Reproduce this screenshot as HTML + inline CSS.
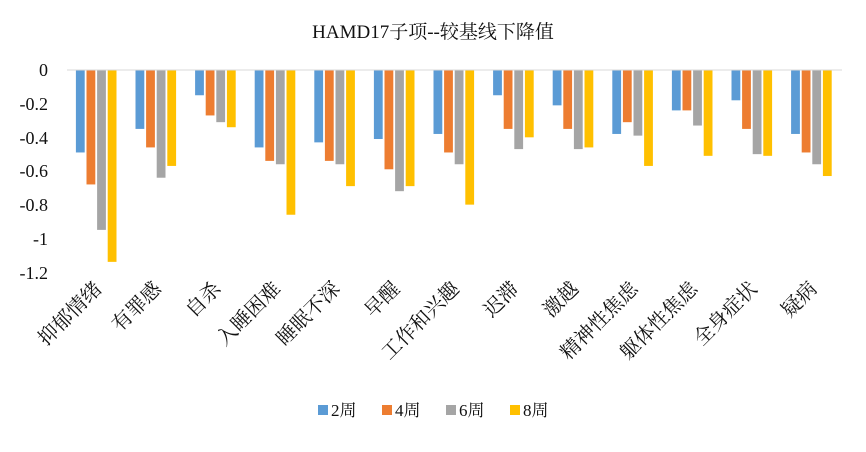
<!DOCTYPE html>
<html><head><meta charset="utf-8"><style>
html,body{margin:0;padding:0;background:#fff;}
svg text{font-family:"Liberation Serif","Noto Serif CJK SC",serif;fill:#111;}
</style></head><body>
<svg width="866" height="447" viewBox="0 0 866 447" xmlns="http://www.w3.org/2000/svg">
<rect width="866" height="447" fill="#fff"/>
<text x="433" y="38" font-size="19" text-anchor="middle">HAMD17子项--较基线下降值</text>
<g font-size="18" text-anchor="end">
<text x="48" y="76">0</text>
<text x="48" y="110">-0.2</text>
<text x="48" y="144">-0.4</text>
<text x="48" y="177">-0.6</text>
<text x="48" y="211">-0.8</text>
<text x="48" y="245">-1</text>
<text x="48" y="279">-1.2</text>
</g>
<g id="bars"></g>
<line x1="67" y1="70" x2="842" y2="70" stroke="#d9d9d9" stroke-width="1"/>
<g id="labels" font-size="20" text-anchor="end"></g>
<g font-size="17">
<rect x="318" y="405" width="10" height="10" fill="#5B9BD5"/><text x="331" y="416">2周</text>
<rect x="382" y="405" width="10" height="10" fill="#ED7D31"/><text x="395" y="416">4周</text>
<rect x="446" y="405" width="10" height="10" fill="#A5A5A5"/><text x="459" y="416">6周</text>
<rect x="510" y="405" width="10" height="10" fill="#FFC000"/><text x="523" y="416">8周</text>
</g>
<script>
var cats=["抑郁情绪","有罪感","自杀","入睡困难","睡眠不深","早醒","工作和兴趣","迟滞","激越","精神性焦虑","躯体性焦虑","全身症状","疑病"];
var d=[[-0.49,-0.68,-0.95,-1.14],[-0.35,-0.46,-0.64,-0.57],[-0.15,-0.27,-0.31,-0.34],[-0.46,-0.54,-0.56,-0.86],[-0.43,-0.54,-0.56,-0.69],[-0.41,-0.59,-0.72,-0.69],[-0.38,-0.49,-0.56,-0.80],[-0.15,-0.35,-0.47,-0.40],[-0.21,-0.35,-0.47,-0.46],[-0.38,-0.31,-0.39,-0.57],[-0.24,-0.24,-0.33,-0.51],[-0.18,-0.35,-0.50,-0.51],[-0.38,-0.49,-0.56,-0.63]];
var col=["#5B9BD5","#ED7D31","#A5A5A5","#FFC000"];
var ns="http://www.w3.org/2000/svg",b=document.getElementById("bars"),l=document.getElementById("labels");
var cw=59.6,left=67,sc=168.3;
for(var i=0;i<13;i++){
 var g0=left+i*cw+8.9;
 for(var j=0;j<4;j++){
  var r=document.createElementNS(ns,"rect");
  r.setAttribute("x",g0+j*10.6);r.setAttribute("y",70);
  r.setAttribute("width",8.8);r.setAttribute("height",-d[i][j]*sc);
  r.setAttribute("fill",col[j]);b.appendChild(r);
 }
 var cx=left+i*cw+cw/2+6;
 var t=document.createElementNS(ns,"text");
 t.setAttribute("x",cx);t.setAttribute("y",290);
 t.setAttribute("transform","rotate(-45 "+cx+" 290)");
 t.textContent=cats[i];l.appendChild(t);
}
</script>
</svg>
</body></html>
